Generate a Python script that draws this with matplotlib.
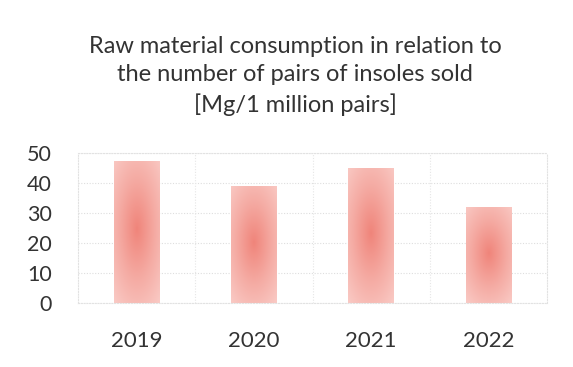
import numpy as np
import matplotlib
matplotlib.use("Agg")
import matplotlib.pyplot as plt
from matplotlib.colors import LinearSegmentedColormap

years = ["2019", "2020", "2021", "2022"]
consumption = [47.5, 39, 45, 32]
y_ticks = [0, 10, 20, 30, 40, 50]
title = "Raw material consumption in relation to\nthe number of pairs of insoles sold\n[Mg/1 million pairs]"

plt.rcParams["font.family"] = ["Lato", "DejaVu Sans"]

fig = plt.figure(figsize=(5.73, 3.67), dpi=100)
ax = fig.add_axes([78 / 573, 1 - 303 / 367, (547 - 78) / 573, 150 / 367])

ax.set_xlim(-0.5, len(years) - 0.5)
ax.set_ylim(0, 50)

# faint chart grid: horizontal at ticks, vertical at category borders
for t in y_ticks:
    ax.axhline(t, color="#dedede", lw=0.8, ls=(0, (1, 1.5)), zorder=0)
for b in np.arange(0.5, len(years) - 0.5, 1):
    ax.axvline(b, color="#e6e6e6", lw=0.8, ls=(0, (1, 1.5)), zorder=0)
for s in ax.spines.values():
    s.set_color("#e2e2e2")
    s.set_linewidth(0.8)
    s.set_linestyle((0, (1, 1.5)))

# pink bars with a soft radial shading, deeper towards the centre
cmap = LinearSegmentedColormap.from_list(
    "pinkfade", [(0.94, 0.52, 0.48), (0.96, 0.67, 0.64), (0.98, 0.80, 0.78)])
width = 0.39
bars = ax.bar(range(len(years)), consumption, width=width, color="none",
              edgecolor="none", zorder=2)
for i, (bar, v) in enumerate(zip(bars, consumption)):
    yy, xx = np.mgrid[0:1:200j, 0:1:60j]
    r = np.sqrt(((xx - 0.5) / 0.8) ** 2 + ((yy - 0.52) / 0.7) ** 2)
    img = ax.imshow(np.clip(r, 0, 1), cmap=cmap, vmin=0, vmax=1,
                    extent=[i - width / 2, i + width / 2, 0, v],
                    aspect="auto", origin="lower", zorder=2,
                    interpolation="bilinear")
    img.set_clip_path(bar)

ax.set_xticks(range(len(years)))
ax.set_xticklabels(years)
ax.set_yticks(y_ticks)
ax.tick_params(length=0, colors="#333333")
ax.tick_params(axis="x", labelsize=16, pad=20)
ax.tick_params(axis="y", labelsize=15.5, pad=19)

fig.text(295 / 573, 1 - 76 / 367, title, ha="center", va="center",
         fontsize=17, color="#333333", linespacing=1.42)

fig.savefig("out.png", dpi=100, facecolor="white")
